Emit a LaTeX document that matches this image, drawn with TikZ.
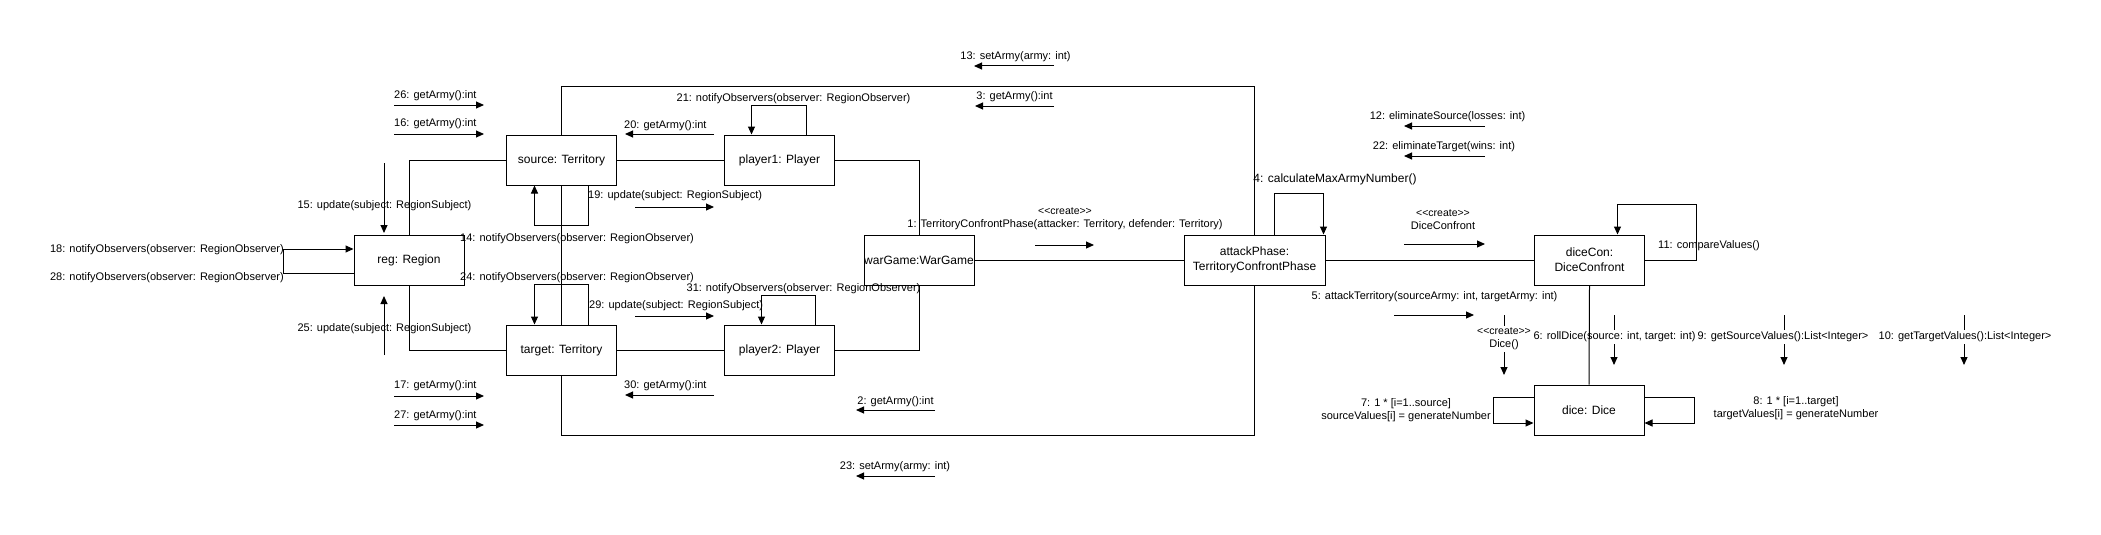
\documentclass[tikz,border=0pt]{standalone}
\usepackage{fontspec}
\setmainfont{Liberation Sans}
\usetikzlibrary{arrows.meta}

\newcommand{\stereo}[1]{{\fontsize{10.5}{12}\selectfont <{}<#1>{}>}}

\begin{document}
\begin{tikzpicture}[x=1pt,y=-1pt,
    obj/.style={draw, line width=1pt, minimum width=110pt, minimum height=50pt,
      inner sep=0pt, align=center, font=\fontsize{12}{15}\selectfont},
    lbl/.style={inner sep=0pt, align=center, font=\fontsize{11}{13}\selectfont},
    lnk/.style={line width=1pt},
    msg/.style={line width=1pt, -{Triangle[length=8pt,width=7pt]}}]
  \useasboundingbox (0,0) rectangle (2101,535);

  % objects
  \node[obj] (reg) at (409,260) {reg: Region};
  \node[obj] (src) at (561.5,160) {source: Territory};
  \node[obj] (tgt) at (561.5,350) {target: Territory};
  \node[obj] (p1) at (779.5,160) {player1: Player};
  \node[obj] (p2) at (779.5,350) {player2: Player};
  \node[obj] (war) at (919,260) {warGame:WarGame};
  \node[obj, minimum width=141pt] (atk) at (1254.5,260) {attackPhase:\\TerritoryConfrontPhase};
  \node[obj] (dc) at (1589.5,260) {diceCon:\\DiceConfront};
  \node[obj] (dice) at (1589,410) {dice: Dice};
  \coordinate (ceil) at (0,86);
  \coordinate (floor) at (0,435);

  % links
  \draw[lnk] (src.west) -| (reg.north);
  \draw[lnk] (reg.south) |- (tgt.west);
  \draw[lnk] (src.south) -- (tgt.north);
  \draw[lnk] (src.east) -- (p1.west);
  \draw[lnk] (tgt.east) -- (p2.west);
  \draw[lnk] (p1.east) -| (war.north);
  \draw[lnk] (p2.east) -| (war.south);
  \draw[lnk] (war.east) -- (atk.west);
  \draw[lnk] (src.north) |- (atk.north |- ceil) -- (atk.north);
  \draw[lnk] (tgt.south) |- (atk.south |- floor) -- (atk.south);
  \draw[lnk] (atk.east) -- (dc.west);

  % self calls
  \draw[msg] ([xshift=27pt]src.south) -- ++(0,40) -| ([xshift=-27pt]src.south);
  \draw[msg] ([xshift=27pt]tgt.north) -- ++(0,-40) -| ([xshift=-27pt]tgt.north);
  \draw[msg] ([yshift=-13pt]reg.west) -- ++(-70,0) |- ([yshift=11pt]reg.west);
  \draw[msg] ([xshift=27pt]p1.north) -- ++(0,-29) -| ([xshift=-28pt]p1.north);
  \draw[msg] ([xshift=36pt]p2.north) -- ++(0,-29) -| ([xshift=-18pt]p2.north);
  \draw[msg] ([xshift=20pt]atk.north) -- ++(0,-41) -| ([xshift=69pt]atk.north);
  \draw[msg] (dc.east) -- ++(51,0) -- ++(0,-56) -| ([xshift=28pt]dc.north);
  \draw[msg] ([yshift=13pt]dice.west) -- ++(-40,0) |- ([yshift=-13pt]dice.west);
  \draw[msg] ([yshift=13pt]dice.east) -- ++(50,0) |- ([yshift=-13pt]dice.east);

  % messages around region and territories
  \node[lbl, anchor=west] (m26) at (394,96) {26: getArmy():int};
  \draw[msg] (394,105) -- (484,105);
  \node[lbl, anchor=west] (m16) at (394,124) {16: getArmy():int};
  \draw[msg] (394,134) -- (484,134);
  \node[lbl, anchor=west] (m17) at (394,386) {17: getArmy():int};
  \draw[msg] (394,396) -- (484,396);
  \node[lbl, anchor=west] (m27) at (394,416) {27: getArmy():int};
  \draw[msg] (394,425) -- (484,425);
  \node[lbl] (m15) at (384.5,206) {15: update(subject: RegionSubject)};
  \draw[msg] (384,163) -- (384,233);
  \node[lbl] (m25) at (384.5,329) {25: update(subject: RegionSubject)};
  \draw[msg] (384,355) -- (384,296);
  \node[lbl, anchor=east] (m18) at (284,250) {18: notifyObservers(observer: RegionObserver)};
  \node[lbl, anchor=east] (m28) at (284,278) {28: notifyObservers(observer: RegionObserver)};
  \node[lbl, anchor=west] (m14) at (460,239) {14: notifyObservers(observer: RegionObserver)};
  \node[lbl, anchor=west] (m24) at (460,278) {24: notifyObservers(observer: RegionObserver)};

  % messages around players
  \node[lbl, anchor=west] (m20) at (624,126) {20: getArmy():int};
  \draw[msg] (714,134) -- (625,134);
  \node[lbl, anchor=west] (m30) at (624,386) {30: getArmy():int};
  \draw[msg] (714,395) -- (625,395);
  \node[lbl, anchor=west] (m19) at (588,196) {19: update(subject: RegionSubject)};
  \draw[msg] (635,207) -- (714,207);
  \node[lbl, anchor=west] (m29) at (589,306) {29: update(subject: RegionSubject)};
  \draw[msg] (635,316) -- (714,316);
  \node[lbl] (m21) at (793.5,99) {21: notifyObservers(observer: RegionObserver)};
  \node[lbl] (m31) at (803.5,289) {31: notifyObservers(observer: RegionObserver)};

  % messages around the war game
  \node[lbl] (m13) at (1015.5,57) {13: setArmy(army: int)};
  \draw[msg] (1054,66) -- (974,66);
  \node[lbl] (m3) at (1014.5,97) {3: getArmy():int};
  \draw[msg] (1054,106) -- (975,106);
  \node[lbl] (m2) at (895.5,402) {2: getArmy():int};
  \draw[msg] (935,410) -- (856,410);
  \node[lbl] (m23) at (895,467) {23: setArmy(army: int)};
  \draw[msg] (935,476) -- (856,476);
  \node[lbl] (m1) at (1065,219) {\stereo{create}\\1: TerritoryConfrontPhase(attacker: Territory, defender: Territory)};
  \draw[msg] (1035,245) -- (1094,245);

  % messages around the confront phase
  \node[lbl] (m12) at (1447.5,117) {12: eliminateSource(losses: int)};
  \draw[msg] (1485,126) -- (1404,126);
  \node[lbl] (m22) at (1444,147) {22: eliminateTarget(wins: int)};
  \draw[msg] (1485,156) -- (1404,156);
  \node[lbl, font=\fontsize{12}{14}\selectfont] (m4) at (1335,179) {4: calculateMaxArmyNumber()};
  \node[lbl] (mdc) at (1443,220) {\stereo{create}\\DiceConfront};
  \draw[msg] (1404,244) -- (1485,244);
  \node[lbl, anchor=west] (m11) at (1658,246) {11: compareValues()};
  \node[lbl] (m5) at (1434.5,297) {5: attackTerritory(sourceArmy: int, targetArmy: int)};
  \draw[msg] (1394,315) -- (1474,315);

  % messages to the dice
  \draw[msg] (1504,315) -- (1504,375);
  \node[lbl, fill=white, inner ysep=2pt] (mdi) at (1504,339) {\stereo{create}\\Dice()};
  \draw[msg] (1614,315) -- (1614,365);
  \node[lbl, fill=white, inner ysep=2pt] (m6) at (1614.5,337) {6: rollDice(source: int, target: int)};
  \draw[msg] (1784,315) -- (1784,365);
  \node[lbl, fill=white, inner ysep=2pt] (m9) at (1783,337) {9: getSourceValues():List<Integer>};
  \draw[msg] (1964,315) -- (1964,365);
  \node[lbl, fill=white, inner ysep=2pt] (m10) at (1965,337) {10: getTargetValues():List<Integer>};
  \draw[lnk] (dc.south) -- (dice.north);
  \node[lbl] (m7) at (1406,410) {7: 1 * [i=1..source]\\sourceValues[i] = generateNumber};
  \node[lbl] (m8) at (1796,408) {8: 1 * [i=1..target]\\targetValues[i] = generateNumber};
\end{tikzpicture}
\end{document}
